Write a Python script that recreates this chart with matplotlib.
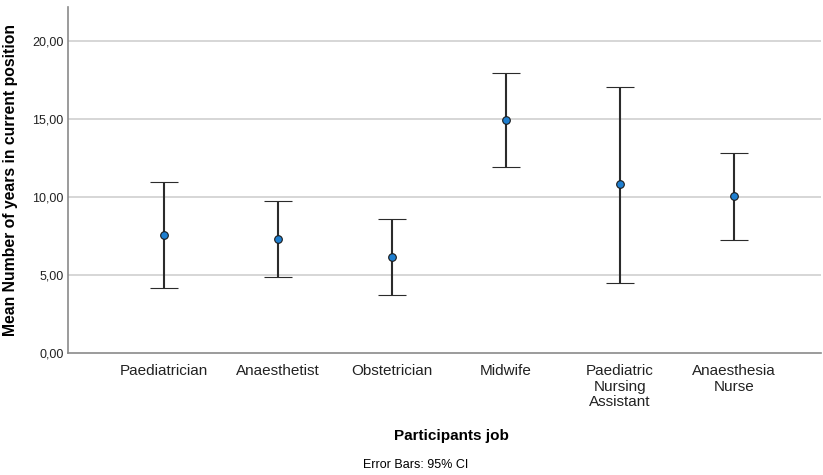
import numpy as np
import matplotlib.pyplot as plt

jobs = ["Paediatrician", "Anaesthetist", "Obstetrician", "Midwife",
        "Paediatric\nNursing\nAssistant", "Anaesthesia\nNurse"]
mean_years = [7.56, 7.31, 6.15, 14.94, 10.83, 10.06]
ci_lower = [4.17, 4.87, 3.72, 11.92, 4.49, 7.24]
ci_upper = [10.96, 9.74, 8.59, 17.95, 17.10, 12.82]
yticks = [0, 5, 10, 15, 20]

plt.rcParams['font.family'] = ['Liberation Sans', 'DejaVu Sans']

fig = plt.figure(figsize=(8.23, 4.75), dpi=100)
ax = fig.add_axes([0.083, 0.257, 0.915, 0.728])

x = np.arange(len(jobs))
mean = np.array(mean_years)
err = np.vstack([mean - np.array(ci_lower), np.array(ci_upper) - mean])

ax.errorbar(x, mean, yerr=err, fmt="o", color="#2b2b2b", ecolor="#2b2b2b",
            elinewidth=1.5, capsize=10, capthick=1.6,
            markersize=5.5, markerfacecolor="#1f7fd0", markeredgecolor="#1a1a1a",
            markeredgewidth=0.8, zorder=3)

ax.set_xlim(-0.84, 5.77)
ax.set_ylim(0, 22.2)
ax.set_yticks(yticks)
ax.set_xticks(x)
ax.set_xticklabels(jobs, fontsize=11, linespacing=1.15, va="top")
ax.tick_params(axis="both", length=0, colors="#222222")
ax.tick_params(axis="x", pad=8)
ax.set_yticklabels([("%.2f" % v).replace(".", ",") for v in yticks], fontsize=9)

for v in yticks[1:]:
    ax.axhline(v, color="#cfcfcf", lw=1.2, zorder=1)

for s in ["top", "right"]:
    ax.spines[s].set_visible(False)
for s in ["left", "bottom"]:
    ax.spines[s].set_color("#8a8a8a")
    ax.spines[s].set_linewidth(1.2)

ax.set_ylabel("Mean Number of years in current position", fontsize=11.3,
              fontweight="bold", labelpad=10)
fig.text(0.548, 0.082, "Participants job", ha="center", va="center",
         fontsize=11, fontweight="bold")
fig.text(0.505, 0.022, "Error Bars: 95% CI", ha="center", va="center", fontsize=9)

fig.savefig("out.png", dpi=100)
